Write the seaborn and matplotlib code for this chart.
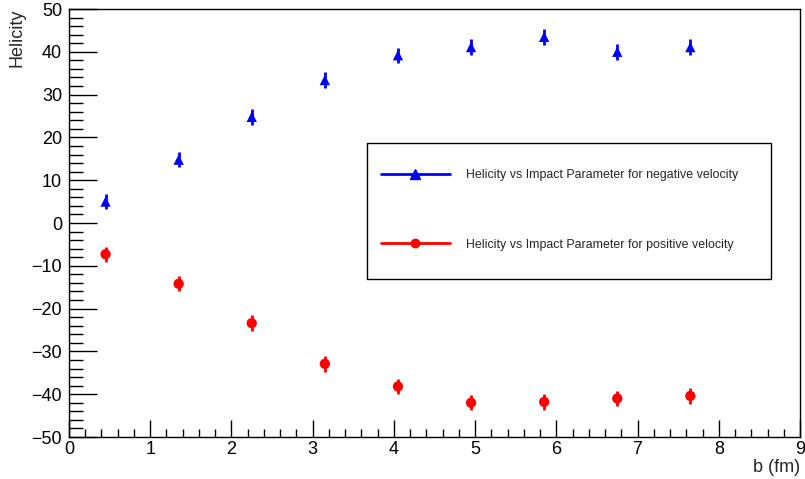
import matplotlib
matplotlib.use("Agg")
import matplotlib.pyplot as plt
import seaborn as sns
import pandas as pd
from matplotlib.ticker import MultipleLocator
from matplotlib.lines import Line2D
from matplotlib.patches import Rectangle

b_values = [0.45, 1.35, 2.25, 3.15, 4.05, 4.95, 5.85, 6.75, 7.65]
helicity_negative = [5.0, 14.8, 24.8, 33.4, 39.2, 41.1, 43.5, 40.0, 41.1]
helicity_positive = [-7.3, -14.2, -23.4, -32.9, -38.2, -42.0, -41.8, -41.0, -40.4]
err_negative = [1.8, 1.8, 1.8, 1.8, 1.8, 1.8, 1.8, 1.8, 1.8]
err_positive = [1.8, 1.8, 1.8, 1.8, 1.8, 1.8, 1.8, 1.8, 1.8]
label_negative = "Helicity vs Impact Parameter for negative velocity"
label_positive = "Helicity vs Impact Parameter for positive velocity"

sns.set_style("white")
plt.rcParams['font.family'] = ['Liberation Sans', 'DejaVu Sans']

df = pd.DataFrame({
    "b": b_values + b_values,
    "h": helicity_negative + helicity_positive,
    "err": err_negative + err_positive,
    "series": [label_negative] * len(b_values) + [label_positive] * len(b_values),
})

fig = plt.figure(figsize=(8.05, 4.79), dpi=100)
ax = fig.add_axes([69 / 805, 1 - 437 / 479, (800 - 69) / 805, (437 - 9) / 479])

colors = {label_negative: "#0000ff", label_positive: "#ff0000"}
markers = {label_negative: "^", label_positive: "o"}

for name, sub in df.groupby("series", sort=False):
    ax.errorbar(sub["b"], sub["h"], yerr=sub["err"], fmt="none",
                ecolor=colors[name], elinewidth=2, capsize=0, zorder=2)

sns.scatterplot(data=df, x="b", y="h", hue="series", style="series",
                palette=colors, markers=markers, s=55, edgecolor="none",
                legend=False, ax=ax, zorder=3)

ax.set_xlim(0, 9)
ax.set_ylim(-50, 50)
ax.xaxis.set_major_locator(MultipleLocator(1))
ax.xaxis.set_minor_locator(MultipleLocator(0.2))
ax.yaxis.set_major_locator(MultipleLocator(10))
ax.yaxis.set_minor_locator(MultipleLocator(2))
ax.tick_params(bottom=True, left=True, top=False, right=False, which="both")
ax.tick_params(axis="x", which="major", direction="in", length=12, width=1,
               labelsize=13, pad=3, colors="black")
ax.tick_params(axis="x", which="minor", direction="in", length=6, width=1, colors="black")
ax.tick_params(axis="y", which="major", direction="in", length=20, width=1,
               labelsize=13, pad=5, colors="black")
ax.tick_params(axis="y", which="minor", direction="in", length=10, width=1, colors="black")
ax.set_xlabel("")
ax.set_ylabel("")
for s in ax.spines.values():
    s.set_color("black")
    s.set_linewidth(1)

fig.text(800 / 805, 1 - 467 / 479, "b (fm)", ha="right", va="center", fontsize=13)
fig.text(17 / 805, 1 - 9 / 479, "Helicity", ha="center", va="top", rotation=90, fontsize=13)

# legend box
box = Rectangle(((367 - 69) / 731, (437 - 279) / 428),
                (771 - 367) / 731, (279 - 143) / 428,
                transform=ax.transAxes, facecolor="white", edgecolor="black",
                linewidth=1, zorder=4)
ax.add_patch(box)

handles = [
    Line2D([0], [0], color=colors[label_negative], lw=2, marker="^", markersize=7),
    Line2D([0], [0], color=colors[label_positive], lw=2, marker="o", markersize=6),
]
leg = ax.legend(handles, [label_negative, label_positive],
                loc="center left",
                bbox_to_anchor=((381 - 69) / 731, (437 - 210) / 428),
                fontsize=8.9, handlelength=5.55, handletextpad=1.3,
                labelspacing=4.65, borderpad=0, borderaxespad=0,
                frameon=False)
leg.set_zorder(5)

fig.savefig("out.png", dpi=100)
